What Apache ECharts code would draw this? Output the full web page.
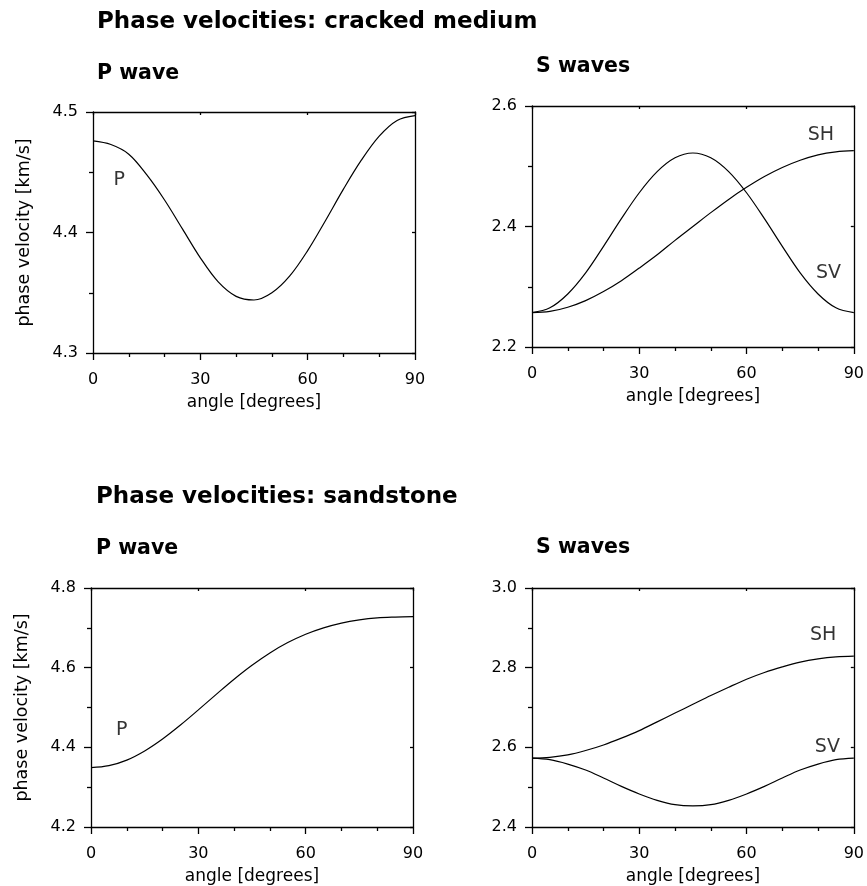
<!DOCTYPE html>
<html>
<head>
<meta charset="utf-8">
<script src="https://cdn.jsdelivr.net/npm/echarts@6/dist/echarts.min.js"></script>
<style>
  html, body { margin: 0; padding: 0; background: #fff; }
  #mainChart { width: 867px; height: 886px; }
</style>
</head>
<body>
<div id="mainChart"></div>
<script>
// angle in degrees (km/s)
var angles = [0, 5, 10, 15, 20, 25, 30, 35, 40, 45, 50, 55, 60, 65, 70, 75, 80, 85, 90];

var crackedP  = [4.476, 4.473, 4.465, 4.448, 4.427, 4.403, 4.379, 4.359, 4.347, 4.344, 4.350, 4.364, 4.385, 4.410, 4.436, 4.460, 4.480, 4.493, 4.497];
var crackedSH = [2.257, 2.259, 2.266, 2.277, 2.292, 2.310, 2.331, 2.353, 2.377, 2.400, 2.423, 2.445, 2.465, 2.483, 2.498, 2.510, 2.519, 2.524, 2.526];
var crackedSV = [2.257, 2.265, 2.288, 2.323, 2.367, 2.413, 2.456, 2.491, 2.514, 2.522, 2.514, 2.491, 2.456, 2.413, 2.367, 2.323, 2.288, 2.265, 2.257];

var sandP  = [4.349, 4.354, 4.368, 4.391, 4.421, 4.456, 4.494, 4.533, 4.571, 4.606, 4.637, 4.663, 4.684, 4.700, 4.712, 4.720, 4.725, 4.727, 4.728];
var sandSH = [2.573, 2.575, 2.581, 2.592, 2.606, 2.623, 2.642, 2.664, 2.686, 2.708, 2.730, 2.751, 2.771, 2.788, 2.802, 2.814, 2.822, 2.827, 2.829];
var sandSV = [2.573, 2.569, 2.558, 2.543, 2.523, 2.502, 2.483, 2.467, 2.456, 2.453, 2.456, 2.467, 2.483, 2.502, 2.523, 2.543, 2.558, 2.569, 2.573];

// curve labels: [grid, angle, velocity, text]
var curveLabels = [
    [0, 7.3, 4.4435, 'P'],
    [1, 80.8, 2.5515, 'SH'],
    [1, 82.9, 2.323, 'SV'],
    [2, 8.6, 4.443, 'P'],
    [3, 81.4, 2.881, 'SH'],
    [3, 82.6, 2.5995, 'SV']
];

var font = 'DejaVu Sans';

var grids = [
    {left: 93, top: 112, width: 322, height: 241},
    {left: 532, top: 106, width: 325, height: 241},
    {left: 91, top: 588, width: 322, height: 241},
    {left: 532, top: 588, width: 325, height: 240}
];
var yRanges = [
    {min: 4.3, max: 4.5, interval: 0.1, name: 'phase velocity [km/s]'},
    {min: 2.2, max: 2.6, interval: 0.2, name: ''},
    {min: 4.2, max: 4.8, interval: 0.2, name: 'phase velocity [km/s]'},
    {min: 2.4, max: 3.0, interval: 0.2, name: ''}
];

var lineStyle = {color: '#000', width: 1.3};

var xAxes = [], yAxes = [];
grids.forEach(function (g, i) {
    xAxes.push({
        gridIndex: i, type: 'value', min: 0, max: 90, interval: 30, position: 'bottom',
        name: 'angle [degrees]', nameLocation: 'middle', nameGap: 41,
        nameTextStyle: {fontFamily: font, fontSize: 17, color: '#000'},
        axisLine: {show: true, onZero: false, lineStyle: lineStyle},
        axisTick: {show: true, length: 7, lineStyle: lineStyle},
        minorTick: {show: true, splitNumber: 3, length: 4, lineStyle: lineStyle},
        axisLabel: {fontFamily: font, fontSize: 16, color: '#000', margin: 19},
        splitLine: {show: false}
    });
    xAxes.push({
        gridIndex: i, type: 'value', min: 0, max: 90, interval: 30, position: 'top',
        axisLine: {show: true, onZero: false, lineStyle: lineStyle},
        axisTick: {show: true, inside: true, length: 3, lineStyle: lineStyle},
        axisLabel: {show: false},
        splitLine: {show: false}
    });
    var r = yRanges[i];
    yAxes.push({
        gridIndex: i, type: 'value', min: r.min, max: r.max, interval: r.interval, position: 'left',
        name: r.name, nameLocation: 'middle', nameGap: 60, nameRotate: 90,
        nameTextStyle: {fontFamily: font, fontSize: 17.5, color: '#000'},
        axisLine: {show: true, onZero: false, lineStyle: lineStyle},
        axisTick: {show: true, length: 7, lineStyle: lineStyle},
        minorTick: {show: true, splitNumber: 2, length: 4, lineStyle: lineStyle},
        axisLabel: {fontFamily: font, fontSize: 16, color: '#000', margin: 15,
            formatter: function (v) { return v.toFixed(1); }},
        splitLine: {show: false}
    });
    yAxes.push({
        gridIndex: i, type: 'value', min: r.min, max: r.max, interval: r.interval, position: 'right',
        axisLine: {show: true, onZero: false, lineStyle: lineStyle},
        axisTick: {show: true, inside: true, length: 3, lineStyle: lineStyle},
        axisLabel: {show: false},
        splitLine: {show: false}
    });
});

function pairs(ys) {
    return angles.map(function (a, k) { return [a, ys[k]]; });
}

function curve(i, ys) {
    return {
        type: 'line', xAxisIndex: i * 2, yAxisIndex: i * 2,
        data: pairs(ys), smooth: 0.35, showSymbol: false, symbol: 'none',
        lineStyle: {color: '#000', width: 1.2}, silent: true
    };
}

var series = [
    curve(0, crackedP),
    curve(1, crackedSH),
    curve(1, crackedSV),
    curve(2, sandP),
    curve(3, sandSH),
    curve(3, sandSV)
];

[0, 1, 2, 3].forEach(function (i) {
    var pts = curveLabels.filter(function (c) { return c[0] === i; }).map(function (c) {
        return {value: [c[1], c[2]], name: c[3]};
    });
    series.push({
        type: 'scatter', xAxisIndex: i * 2, yAxisIndex: i * 2, symbolSize: 0, silent: true,
        data: pts,
        label: {show: true, position: 'inside', formatter: '{b}',
            fontFamily: font, fontSize: 19, color: '#000'}
    });
});

function heading(x, y, text, size) {
    return {
        type: 'text', x: x, y: y,
        style: {text: text, fontFamily: font, fontSize: size, fontWeight: 'bold',
            fill: '#000', verticalAlign: 'middle'}
    };
}

var myChart = echarts.init(document.getElementById('mainChart'));
myChart.setOption({
    animation: false,
    backgroundColor: '#fff',
    grid: grids,
    xAxis: xAxes,
    yAxis: yAxes,
    series: series,
    graphic: [
        heading(97, 22, 'Phase velocities: cracked medium', 23),
        heading(97, 74, 'P wave', 20.5),
        heading(536, 67, 'S waves', 20.5),
        heading(96, 497, 'Phase velocities: sandstone', 23),
        heading(96, 549, 'P wave', 20.5),
        heading(536, 548, 'S waves', 20.5)
    ]
});
</script>
</body>
</html>
